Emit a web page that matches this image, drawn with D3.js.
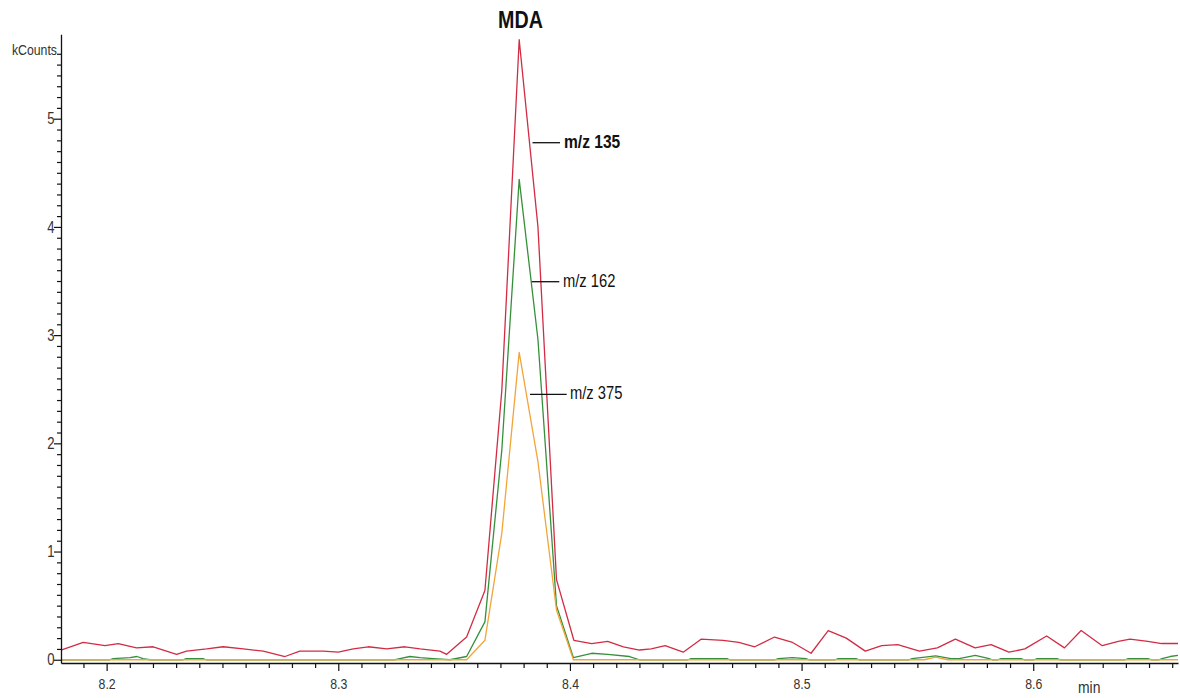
<!DOCTYPE html>
<html>
<head>
<meta charset="utf-8">
<script src="https://cdn.jsdelivr.net/npm/d3@7"></script>
<style>
  body { margin: 0; background: #fff; }
  svg { display: block; }
  text { font-family: "Liberation Sans", Arial, sans-serif; }
</style>
</head>
<body>
<svg id="chart" width="1180" height="698"></svg>
<script>
// Extracted ion chromatograms for MDA: [retention time (min), intensity (kCounts)]
const ion135 = [
  [8.1803, 0.09], [8.1899, 0.16], [8.1993, 0.13], [8.2050, 0.15], [8.2129, 0.11],
  [8.2201, 0.12], [8.2302, 0.05], [8.2345, 0.08], [8.2432, 0.10], [8.2503, 0.12],
  [8.2590, 0.10], [8.2676, 0.08], [8.2770, 0.03], [8.2834, 0.08], [8.2935, 0.08],
  [8.3000, 0.07], [8.3065, 0.10], [8.3129, 0.12], [8.3209, 0.10], [8.3288, 0.12],
  [8.3353, 0.10], [8.3439, 0.08], [8.3468, 0.05], [8.3554, 0.21], [8.3633, 0.64],
  [8.3706, 2.49], [8.3781, 5.73], [8.3862, 4.00], [8.3942, 0.74], [8.4017, 0.18],
  [8.4094, 0.15], [8.4163, 0.17], [8.4231, 0.12], [8.4300, 0.09], [8.4351, 0.10],
  [8.4411, 0.13], [8.4489, 0.07], [8.4566, 0.19], [8.4661, 0.18], [8.4729, 0.16],
  [8.4798, 0.12], [8.4883, 0.21], [8.4961, 0.16], [8.5041, 0.06], [8.5115, 0.27],
  [8.5193, 0.20], [8.5275, 0.08], [8.5346, 0.13], [8.5415, 0.14], [8.5509, 0.08],
  [8.5586, 0.11], [8.5664, 0.19], [8.5749, 0.11], [8.5818, 0.14], [8.5895, 0.07],
  [8.5964, 0.10], [8.6058, 0.22], [8.6135, 0.11], [8.6207, 0.27], [8.6298, 0.13],
  [8.6367, 0.17], [8.6418, 0.19], [8.6495, 0.17], [8.6555, 0.15], [8.6625, 0.15]
];

const ion162 = [
  [8.1803, 0.00], [8.2014, 0.00], [8.2028, 0.01], [8.2101, 0.02], [8.2131, 0.03],
  [8.2157, 0.01], [8.2187, 0.00], [8.2330, 0.00], [8.2343, 0.01], [8.2416, 0.01],
  [8.2429, 0.00], [8.3245, 0.00], [8.3266, 0.01], [8.3309, 0.03], [8.3353, 0.02],
  [8.3409, 0.01], [8.3482, 0.00], [8.3554, 0.03], [8.3633, 0.35], [8.3706, 1.94],
  [8.3781, 4.44], [8.3862, 2.96], [8.3942, 0.50], [8.4015, 0.02], [8.4094, 0.06],
  [8.4163, 0.05], [8.4257, 0.03], [8.4300, 0.00], [8.4510, 0.00], [8.4523, 0.01],
  [8.4678, 0.01], [8.4690, 0.00], [8.4885, 0.00], [8.4899, 0.01], [8.4961, 0.02],
  [8.5019, 0.01], [8.5032, 0.00], [8.5145, 0.00], [8.5158, 0.01], [8.5235, 0.01],
  [8.5248, 0.00], [8.5464, 0.00], [8.5477, 0.01], [8.5579, 0.035], [8.5645, 0.01],
  [8.5680, 0.01], [8.5750, 0.04], [8.5810, 0.01], [8.5823, 0.00], [8.5848, 0.00],
  [8.5861, 0.01], [8.5948, 0.01], [8.5961, 0.00], [8.6004, 0.00], [8.6017, 0.01],
  [8.6103, 0.01], [8.6116, 0.00], [8.6397, 0.00], [8.6410, 0.01], [8.6496, 0.01],
  [8.6509, 0.00], [8.6543, 0.00], [8.6556, 0.01], [8.6591, 0.03], [8.6625, 0.04]
];

const ion375 = [
  [8.1803, 0.00], [8.3554, 0.00], [8.3633, 0.18], [8.3706, 1.17], [8.3781, 2.84],
  [8.3862, 1.83], [8.3942, 0.46], [8.4015, 0.00], [8.5530, 0.00], [8.5579, 0.025],
  [8.5630, 0.00], [8.6625, 0.00]
];

const traceNames = ["m/z 135", "m/z 162", "m/z 375"];
const traceColors = ["#d22c44", "#36903a", "#f2a53a"];
const xMajorTicks = [8.2, 8.3, 8.4, 8.5, 8.6];
const yMajorTicks = [0, 1, 2, 3, 4, 5];
const compoundName = "MDA";
const yUnit = "kCounts";
const xUnit = "min";

// condensed lettering: horizontal squeeze of the sans face
const SQUEEZE = 0.82;

const svg = d3.select("#chart");
svg.append("rect").attr("width", 1180).attr("height", 698).attr("fill", "#fff");

const plot = { left: 61, right: 1178, bottom: 663, top: 34.3 };
const x = d3.scaleLinear().domain([8.1803, 8.6625]).range([plot.left, plot.right]);
const y = d3.scaleLinear().domain([-0.03, 5.78]).range([plot.bottom, plot.top]);

// minor ticks: every 0.01 min and every 0.1 kCounts
const xMinorTicks = d3.range(819, 867).map(i => i / 100)
  .filter(t => !xMajorTicks.some(m => Math.abs(m - t) < 1e-6));
const yMinorTicks = d3.range(0, 57).map(i => i / 10)
  .filter(v => !yMajorTicks.some(m => Math.abs(m - v) < 1e-6));

// traces
const line = d3.line().x(d => x(d[0])).y(d => y(d[1]));
[ion135, ion162, ion375].forEach((series, i) => {
  svg.append("path")
    .datum(series)
    .attr("d", line)
    .attr("fill", "none")
    .attr("stroke", traceColors[i])
    .attr("stroke-width", 1.3)
    .attr("stroke-linejoin", "round");
});

// x axis
svg.append("g").attr("transform", `translate(0,${plot.bottom})`)
  .call(d3.axisBottom(x).tickValues(xMinorTicks).tickSize(5).tickSizeOuter(0).tickFormat(""));
const gxMajor = svg.append("g").attr("transform", `translate(0,${plot.bottom})`)
  .call(d3.axisBottom(x).tickValues(xMajorTicks).tickSize(8).tickSizeOuter(0).tickPadding(7)
    .tickFormat(d3.format(".1f")));
gxMajor.select(".domain").remove();

// y axis
svg.append("g").attr("transform", `translate(${plot.left},0)`)
  .call(d3.axisLeft(y).tickValues(yMinorTicks).tickSize(4).tickSizeOuter(0).tickFormat(""));
const gyMajor = svg.append("g").attr("transform", `translate(${plot.left},0)`)
  .call(d3.axisLeft(y).tickValues(yMajorTicks).tickSize(7).tickSizeOuter(0).tickPadding(1)
    .tickFormat(d3.format("d")));
gyMajor.select(".domain").remove();

svg.selectAll(".domain").attr("stroke", "#111").attr("stroke-width", 1.3);
svg.selectAll(".tick line").attr("stroke", "#111").attr("stroke-width", 1.2);
svg.selectAll(".tick text")
  .attr("fill", "#333")
  .attr("font-family", null)
  .style("font-size", "16px")
  .attr("transform", `scale(${SQUEEZE},1)`);
gxMajor.selectAll(".tick text").style("font-size", "15px");

function label(px, py, str, size, weight, anchor, color) {
  return svg.append("text")
    .attr("transform", `translate(${px},${py}) scale(${SQUEEZE},1)`)
    .attr("text-anchor", anchor || "start")
    .attr("fill", color || "#111")
    .style("font-size", size + "px")
    .style("font-weight", weight || "normal")
    .text(str);
}

// axis unit labels
label(57, 55, yUnit, 15, "normal", "end", "#333");
label(1078, 693, xUnit, 17, "normal", "start", "#333");

// compound title
label(520.5, 28, compoundName, 24, "bold", "middle");

// trace annotations with leader lines
const annotations = [
  { name: traceNames[0], x1: 532.5, x2: 560, ly: 142.7, tx: 564, ty: 148, size: 19, weight: "bold" },
  { name: traceNames[1], x1: 531.7, x2: 559.3, ly: 281.7, tx: 563, ty: 287, size: 18, weight: "normal" },
  { name: traceNames[2], x1: 530, x2: 566.7, ly: 394.3, tx: 570, ty: 399, size: 18, weight: "normal" }
];
annotations.forEach(a => {
  svg.append("line")
    .attr("x1", a.x1).attr("x2", a.x2).attr("y1", a.ly).attr("y2", a.ly)
    .attr("stroke", "#111").attr("stroke-width", 1.3);
  label(a.tx, a.ty, a.name, a.size, a.weight, "start");
});
</script>
</body>
</html>
